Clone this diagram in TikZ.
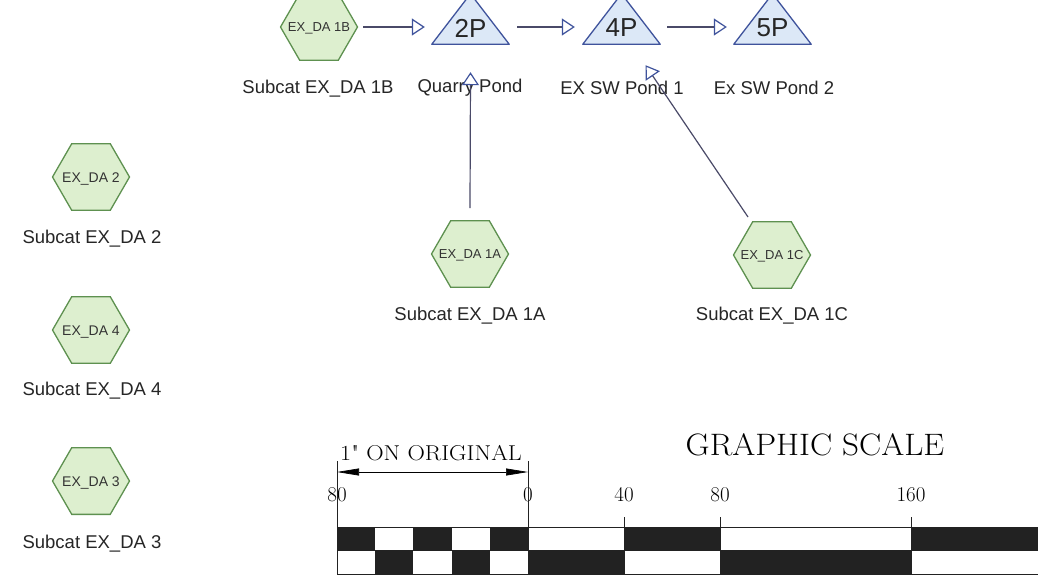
\documentclass[tikz,border=0pt]{standalone}
\usepackage{fontspec}
\newfontfamily\arialf{Liberation Sans}
\usetikzlibrary{shapes.geometric,arrows.meta,calc}
\definecolor{hexfill}{HTML}{DDEFCF}
\definecolor{hexdraw}{HTML}{5E9150}
\definecolor{trifill}{HTML}{DCE8F7}
\definecolor{tridraw}{HTML}{3F539C}
\definecolor{linec}{HTML}{4A4A68}
\definecolor{barblack}{HTML}{222222}
\definecolor{hextext}{HTML}{333333}
\newcommand{\hextxt}[1]{\smash{\makebox[0pt]{\raisebox{-0.36em}{#1}}}}
\tikzset{
  subcat/.style={regular polygon, regular polygon sides=6, minimum size=77pt, inner sep=0pt,
    draw=hexdraw, fill=hexfill, line width=1.3pt, text=hextext, font=\arialf\fontsize{13}{13}\selectfont},
  subcatbig/.style={subcat, font=\arialf\fontsize{14}{14}\selectfont},
  lbl/.style={font=\arialf\fontsize{18.5}{20}\selectfont, text=black!85, inner sep=0pt},
  pondbox/.style={minimum width=77pt, minimum height=50pt, inner sep=0pt},
  pondtri/.style={draw=tridraw, fill=trifill, line width=1.3pt, line join=round},
  pondtxt/.style={font=\arialf\fontsize{26}{26}\selectfont, inner sep=0pt, text=black!85},
  flow/.style={draw=linec, line width=1.2pt,
    -{Triangle[length=13pt, width=17pt, fill=white, color=tridraw, line width=1.2pt]}},
  serifnum/.style={font=\fontsize{21}{21}\selectfont, inner sep=0pt},
  barline/.style={line width=1pt, draw=barblack},
}
\begin{document}
\begin{tikzpicture}[x=1pt,y=-1pt]
\useasboundingbox[fill=white] (0,0) rectangle (1038,581);

% ponds (triangles)
\node[pondbox] (p2) at (470.5,19) {};
\node[pondbox] (p4) at (621.5,19) {};
\node[pondbox] (p5) at (772.5,19) {};
\foreach \p in {p2,p4,p5}{
  \draw[pondtri] (\p.south west) -- (\p.south east) -- (\p.north) -- cycle;
}
\node[pondtxt] (t2) at ([yshift=-9pt]p2.center) {2P};
\node[pondtxt] (t4) at ([yshift=-9pt]p4.center) {4P};
\node[pondtxt] (t5) at ([yshift=-9pt]p5.center) {5P};

% subcatchments
\node[subcat] (h1B) at (319,27) {\hextxt{EX\_DA 1B}};
\node[subcatbig] (h2) at (91,177) {\hextxt{EX\_DA 2}};
\node[subcatbig] (h4) at (91,330) {\hextxt{EX\_DA 4}};
\node[subcatbig] (h3) at (91,481) {\hextxt{EX\_DA 3}};
\node[subcat] (h1A) at (470,254) {\hextxt{EX\_DA 1A}};
\node[subcat] (h1C) at (772,255) {\hextxt{EX\_DA 1C}};

% labels
\node[lbl] (l1B) at (318,89) {Subcat EX\_DA 1B};
\node[lbl] (lq) at (470,88) {Quarry Pond};
\node[lbl] (lp1) at (622,88) {EX SW Pond 1};
\node[lbl] (lp2) at (774,88) {Ex SW Pond 2};
\node[lbl] (l2) at (92,239) {Subcat EX\_DA 2};
\node[lbl] (l4) at (92,391) {Subcat EX\_DA 4};
\node[lbl] (l3) at (92,544) {Subcat EX\_DA 3};
\node[lbl] (l1A) at (470,316) {Subcat EX\_DA 1A};
\node[lbl] (l1C) at (772,316) {Subcat EX\_DA 1C};

% connectors
\draw[flow] ([xshift=5pt]h1B.east) -- ([xshift=-7pt]h1B.east -| p2.west);
\draw[flow] ([xshift=8pt,yshift=-8pt]p2.east) -- ([xshift=-8pt,yshift=-8pt]p4.west);
\draw[flow] ([xshift=7pt,yshift=-8pt]p4.east) -- ([xshift=-7pt,yshift=-8pt]p5.west);
\draw[flow] ([yshift=12pt]h1A.north) -- ([yshift=-28pt]p2.south);
\coordinate (c1Cs) at ([xshift=-24pt,yshift=4pt]h1C.north);
\coordinate (c4in) at ([xshift=24pt,yshift=-21pt]p4.south);
\draw[flow] (c1Cs) -- (c4in);

% graphic scale
\node[font=\fontsize{31}{31}\selectfont, inner sep=0pt] (gs) at (815,445) {\scalebox{1.07}[1]{GRAPHIC SCALE}};
\node[font=\fontsize{21.5}{21.5}\selectfont, inner sep=0pt] (orig) at (431,453) {\scalebox{1.12}[1]{1\textquotedbl{} ON ORIGINAL}};
\coordinate (dimL) at (337,472);
\coordinate (dimR) at (528,472);
\draw[line width=0.7pt, {Triangle[length=22pt,width=7pt]}-{Triangle[length=22pt,width=7pt]}] (dimL) -- (dimR);

\node[serifnum] (n80a) at (337,495) {80};
\node[serifnum] (n0) at (528,495) {0};
\node[serifnum] (n40) at (624,495) {40};
\node[serifnum] (n80b) at (720,495) {80};
\node[serifnum] (n160) at (911,495) {160};

% checker fills
\foreach \a/\b in {337/375.2, 413.4/451.6, 489.8/528, 624/720, 911/1038}{
  \fill[barblack] (\a,527) rectangle (\b,550);
}
\foreach \a/\b in {375.2/413.4, 451.6/489.8, 528/624, 720/911}{
  \fill[barblack] (\a,550) rectangle (\b,574);
}
\draw[barline] (337,527) -- (1038,527);
\draw[barline] (337,550) -- (1038,550);
\draw[barline] (337,574) -- (1038,574);
\draw[barline] (337,461) -- (337,574);
\draw[barline] (528,461) -- (528,574);
\foreach \x in {624,720,911}{
  \draw[barline] (\x,517) -- (\x,574);
}
\end{tikzpicture}
\end{document}
